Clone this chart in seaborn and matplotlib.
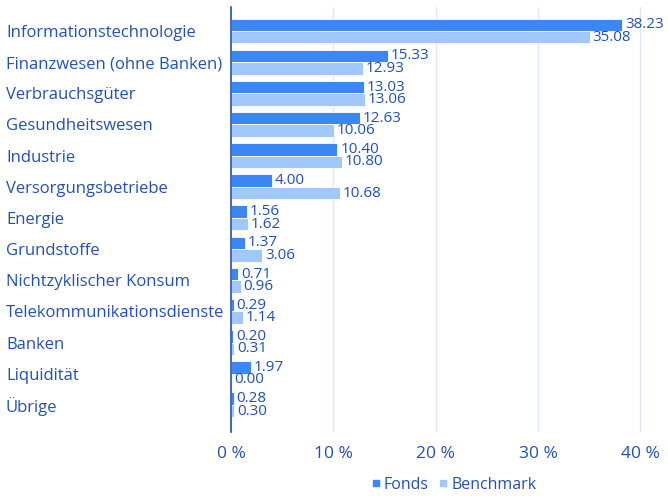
import pandas as pd
import numpy as np
import matplotlib
matplotlib.use("Agg")
import matplotlib.pyplot as plt
import seaborn as sns
from matplotlib.lines import Line2D

categories = ["Informationstechnologie", "Finanzwesen (ohne Banken)", "Verbrauchsgüter",
              "Gesundheitswesen", "Industrie", "Versorgungsbetriebe", "Energie", "Grundstoffe",
              "Nichtzyklischer Konsum", "Telekommunikationsdienste", "Banken", "Liquidität", "Übrige"]
fonds = [38.23, 15.33, 13.03, 12.63, 10.40, 4.00, 1.56, 1.37, 0.71, 0.29, 0.20, 1.97, 0.28]
benchmark = [35.08, 12.93, 13.06, 10.06, 10.80, 10.68, 1.62, 3.06, 0.96, 1.14, 0.31, 0.00, 0.30]
series = ["Fonds", "Benchmark"]
xticks = [0, 10, 20, 30, 40]

c_fonds = "#3b87f6"
c_bench = "#a2c8fb"
c_text = "#2250b8"
c_grid = "#dde9f8"

df = pd.DataFrame({
    "cat": categories * 2,
    "val": fonds + benchmark,
    "series": ["Fonds"] * len(fonds) + ["Benchmark"] * len(benchmark),
})

sns.set_style("white")
plt.rcParams["font.family"] = ["Open Sans", "DejaVu Sans"]

fig = plt.figure(figsize=(6.68, 4.96), dpi=100)
ax = fig.add_axes([231 / 668, 1 - 432 / 496, 1 - 231 / 668, 425 / 496])

sns.barplot(data=df, y="cat", x="val", hue="series", order=categories, hue_order=series,
            palette=[c_fonds, c_bench], saturation=1, orient="h", width=0.8,
            edgecolor="white", linewidth=0.6, legend=False, ax=ax)

ax.set_xlim(0, 42.7)
ax.set_ylim(12.87, -0.77)
ax.set_xticks(xticks)
ax.set_xticklabels([f"{t} %" for t in xticks])
ax.grid(axis="x", color=c_grid, linewidth=1)
ax.set_axisbelow(True)
for s in ["top", "right", "bottom"]:
    ax.spines[s].set_visible(False)
ax.spines["left"].set_color(c_text)
ax.spines["left"].set_linewidth(1.2)
ax.set_xlabel("")
ax.set_ylabel("")
ax.tick_params(axis="x", length=0, pad=10, labelsize=12.5, labelcolor=c_text)
ax.tick_params(axis="y", length=0, pad=162, labelsize=12, labelcolor=c_text)
for lab in ax.get_yticklabels():
    lab.set_horizontalalignment("left")

# value labels
for cont in ax.containers:
    ax.bar_label(cont, labels=[f"{w:.2f}" for w in cont.datavalues], padding=2,
                 fontsize=11, color=c_text)

handles = [Line2D([], [], marker="s", linestyle="", color=c_fonds, markersize=4),
           Line2D([], [], marker="s", linestyle="", color=c_bench, markersize=4)]
fig.legend(handles, series, loc="center", bbox_to_anchor=(453 / 668, 1 - 485 / 496),
           ncol=2, frameon=False, fontsize=11.5, labelcolor=c_text, handletextpad=0.1,
           columnspacing=0.5, handlelength=0.8)

fig.savefig("out.png", dpi=100)
